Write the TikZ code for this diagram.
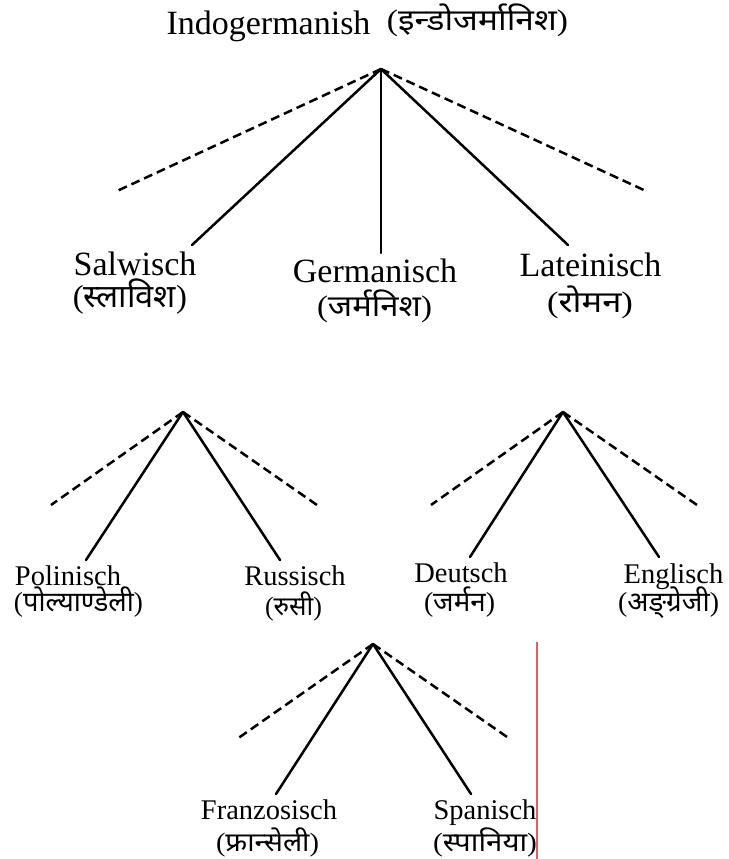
\documentclass[tikz,border=0pt]{standalone}
\usepackage{graphicx}
\usepackage{fontspec}
\setmainfont{Liberation Serif}
\newfontfamily\deva[Script=Devanagari]{Noto Sans}
\newcommand\myfs[1]{\fontsize{#1}{#1}\selectfont}
% width, paren height, text
\newcommand\dvw[3]{\resizebox*{#1pt}{#2pt}{\myfs{20}(\smash{\deva #3})}}
\definecolor{marginred}{RGB}{225,95,95}
\tikzset{
  solidln/.style={line width=2.5pt, line cap=round},
  dashln/.style={line width=2.5pt, dash pattern=on 9pt off 5pt},
  latA/.style={inner sep=0, anchor=base, font=\myfs{34}},
  latB/.style={inner sep=0, anchor=base, font=\myfs{28.5}},
  dvlab/.style={inner sep=0, anchor=center},
}
\begin{document}
\begin{tikzpicture}[x=1pt,y=-1pt]
\useasboundingbox (0,0) rectangle (728,859);

% title
\node[latA] (title) at (268.5,35) {Indogermanish};
\node[dvlab] (titled) at (477.5,23) {\dvw{181}{27}{इन्डोजर्मानिश}};

% level 1
\coordinate (top) at (381,69);
\coordinate (topdl) at (117,191);
\coordinate (topdr) at (646,191);
\coordinate (salwend) at (192,245);
\coordinate (germend) at (381,253);
\coordinate (latend) at (568,245);
\draw[dashln] (top) -- (topdl);
\draw[dashln] (top) -- (topdr);
\draw[solidln] (top) -- (salwend);
\draw[solidln] (top) -- (germend);
\draw[solidln] (top) -- (latend);

\node[latA] (salw) at (135,275) {Salwisch};
\node[dvlab] (salwd) at (130,300) {\dvw{114}{29}{स्लाविश}};
\node[latA] (germ) at (375,282) {Germanisch};
\node[dvlab] (germd) at (374.5,309) {\dvw{115}{27}{जर्मनिश}};
\node[latA] (lat) at (590.5,276) {Lateinisch};
\node[dvlab] (latd) at (590,305) {\dvw{86}{27}{रोमन}};

% left subtree
\coordinate (lt) at (183,412);
\coordinate (ltdl) at (51,505);
\coordinate (ltdr) at (317,505);
\coordinate (polend) at (86,560);
\coordinate (rusend) at (280,560);
\draw[dashln] (lt) -- (ltdl);
\draw[dashln] (lt) -- (ltdr);
\draw[solidln] (lt) -- (polend);
\draw[solidln] (lt) -- (rusend);
\node[latB] (pol) at (68,585) {Polinisch};
\node[dvlab] (pold) at (78.5,605) {\dvw{129}{25}{पोल्याण्डेली}};
\node[latB] (rus) at (295,585) {Russisch};
\node[dvlab] (rusd) at (293.5,609) {\dvw{57}{24}{रुसी}};

% right subtree
\coordinate (rt) at (563,412);
\coordinate (rtdl) at (431,505);
\coordinate (rtdr) at (697,505);
\coordinate (deuend) at (470,557);
\coordinate (engend) at (659,557);
\draw[dashln] (rt) -- (rtdl);
\draw[dashln] (rt) -- (rtdr);
\draw[solidln] (rt) -- (deuend);
\draw[solidln] (rt) -- (engend);
\node[latB] (deu) at (461,582) {Deutsch};
\node[dvlab] (deud) at (459.5,605) {\dvw{71}{25}{जर्मन}};
\node[latB] (eng) at (673.5,583) {Englisch};
\node[dvlab] (engd) at (668.5,605) {\dvw{101}{25}{अङ्ग्रेजी}};

% bottom subtree
\coordinate (bt) at (373,644);
\coordinate (btdl) at (237,739);
\coordinate (btdr) at (510,739);
\coordinate (fraend) at (276,794);
\coordinate (spaend) at (471,794);
\draw[dashln] (bt) -- (btdl);
\draw[dashln] (bt) -- (btdr);
\draw[solidln] (bt) -- (fraend);
\draw[solidln] (bt) -- (spaend);
\node[latB] (fra) at (269,819) {Franzosisch};
\node[dvlab] (frad) at (267.5,845.5) {\dvw{103}{24}{फ्रान्सेली}};
\node[latB] (spa) at (485,819) {Spanisch};
\node[dvlab] (spad) at (485,845.5) {\dvw{104}{24}{स्पानिया}};

% red margin line
\coordinate (redtop) at (537,642);
\coordinate (redbot) at (537,859);
\draw[marginred, line width=1.2pt] (redtop) -- (redbot);
\end{tikzpicture}
\end{document}
